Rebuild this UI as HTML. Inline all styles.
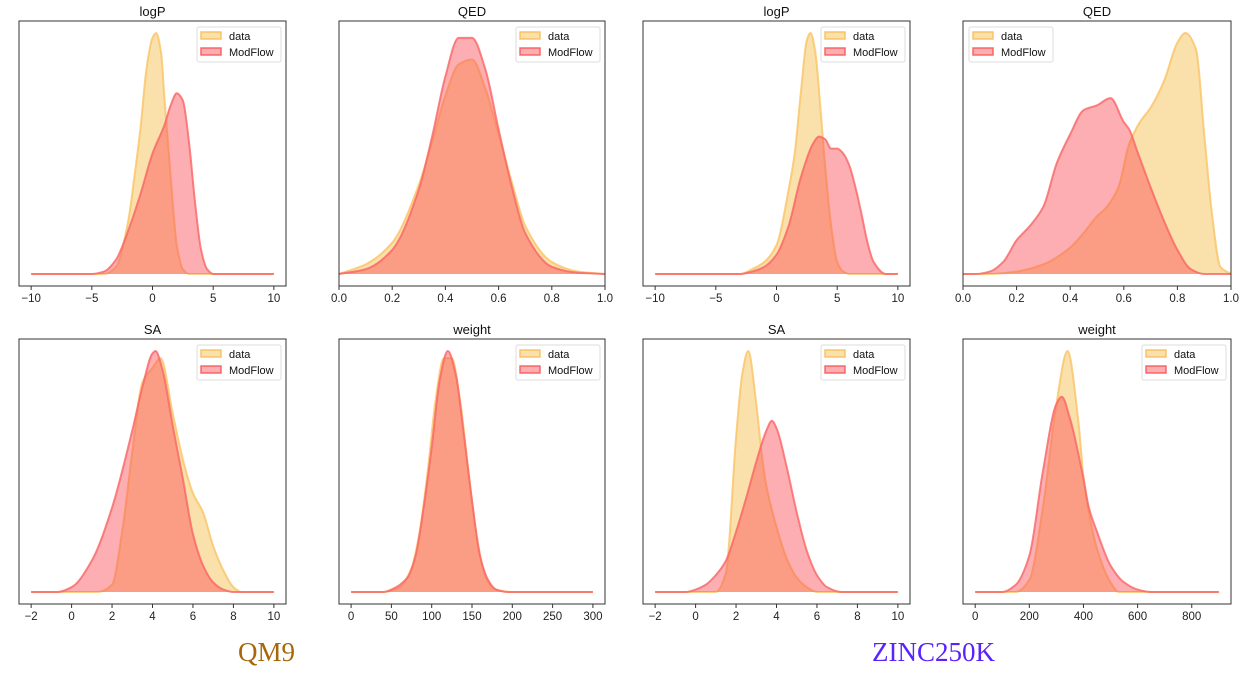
<!DOCTYPE html>
<html><head><meta charset="utf-8">
<style>
html,body{margin:0;padding:0;background:#fff;}
body{width:1247px;height:679px;overflow:hidden;position:relative;font-family:"Liberation Sans",sans-serif;}
svg{position:absolute;left:0;top:0;}
.lab{position:absolute;font-family:"Liberation Serif",serif;font-size:27px;}
</style></head>
<body>
<svg id="chart" width="1247" height="679"></svg>
<div class="lab" style="left:238px;top:637px;color:#a8670c;">QM9</div>
<div class="lab" style="left:872px;top:637px;color:#5a22ff;">ZINC250K</div>
<script>
// ---- data arrays ----
const titles = ["logP","QED","logP","QED","SA","weight","SA","weight"];
const ranges = [[-10,10],[0,1],[-10,10],[0,1],[-2,10],[0,300],[-2,10],[0,900]];
const tickLabels = [
 [-10,-5,0,5,10],[0.0,0.2,0.4,0.6,0.8,1.0],[-10,-5,0,5,10],[0.0,0.2,0.4,0.6,0.8,1.0],
 [-2,0,2,4,6,8,10],[0,50,100,150,200,250,300],[-2,0,2,4,6,8,10],[0,200,400,600,800]
];
const dataX = [
 [-4,-3,-2,-1.5,-1,-0.5,0,0.3,0.7,1,1.5,2,2.5,3,4],
 [0,0.1,0.2,0.3,0.35,0.4,0.45,0.5,0.55,0.6,0.65,0.7,0.8,0.9,1.0],
 [-3,-2,-1,0,1,1.5,2,2.5,2.8,3.2,3.6,4,4.5,5,5.5,6],
 [0.1,0.2,0.3,0.4,0.45,0.5,0.53,0.58,0.62,0.66,0.7,0.75,0.8,0.83,0.87,0.9,0.93,0.96,1.0],
 [1.3,2,2.5,3,3.5,4,4.4,5,5.5,6,6.5,7,7.5,8,8.4],
 [40,60,75,85,95,105,115,125,135,145,155,165,175,185,200],
 [1,1.5,2,2.3,2.6,3,3.3,3.5,4,4.5,5,5.5,6],
 [150,200,250,300,341,380,400,420,450,500,530]
];
const dataY = [
 [0,0.03,0.22,0.4,0.6,0.85,0.98,1,0.92,0.72,0.4,0.12,0.02,0,0],
 [0.01,0.04,0.13,0.37,0.55,0.74,0.87,0.89,0.77,0.58,0.38,0.2,0.05,0.01,0],
 [0,0.02,0.05,0.12,0.35,0.5,0.75,0.97,1,0.92,0.7,0.45,0.2,0.05,0.01,0],
 [0,0.01,0.04,0.11,0.17,0.24,0.27,0.36,0.54,0.63,0.69,0.8,0.96,1.0,0.93,0.58,0.24,0.03,0],
 [0,0.03,0.25,0.58,0.87,0.93,0.97,0.74,0.55,0.41,0.33,0.19,0.09,0.02,0],
 [0,0.02,0.1,0.25,0.5,0.8,0.97,0.97,0.8,0.52,0.25,0.08,0.02,0.005,0],
 [0,0.08,0.64,0.9,1.0,0.78,0.55,0.44,0.27,0.14,0.06,0.02,0],
 [0,0.05,0.35,0.78,1.0,0.72,0.48,0.33,0.18,0.04,0]
];
const flowX = [
 [-5,-4,-3,-2,-1,0,1,1.5,2,2.5,3,3.5,4,4.5,5],
 [0,0.1,0.2,0.3,0.35,0.4,0.45,0.5,0.55,0.6,0.65,0.7,0.8,0.9,1.0],
 [-3,-2,-1,0,1,2,3,3.5,4,4.5,5,5.5,6,6.5,7,7.5,8,9],
 [0.05,0.1,0.15,0.2,0.25,0.3,0.35,0.4,0.45,0.5,0.55,0.6,0.62,0.65,0.7,0.75,0.8,0.85,0.9],
 [-0.7,0,1,2,3,3.5,4,4.15,4.5,5,5.5,6,6.5,7,7.5,8],
 [40,50,70,80,90,100,110,120,130,140,150,160,170,180,195],
 [-0.5,0,0.5,1,1.5,2,2.5,3,3.5,3.77,4,4.5,5,5.5,6,6.5,7.2],
 [100,150,200,250,300,320,350,400,420,450,500,550,600,650]
];
const flowY = [
 [0,0.01,0.06,0.18,0.33,0.5,0.62,0.7,0.75,0.72,0.55,0.3,0.1,0.02,0],
 [0,0.02,0.1,0.35,0.57,0.82,0.98,0.98,0.85,0.6,0.36,0.17,0.03,0.005,0],
 [0,0.01,0.03,0.08,0.2,0.4,0.54,0.57,0.56,0.52,0.52,0.5,0.45,0.36,0.25,0.13,0.05,0],
 [0,0.01,0.05,0.14,0.2,0.28,0.46,0.58,0.68,0.7,0.73,0.63,0.6,0.51,0.36,0.22,0.1,0.02,0],
 [0,0.02,0.13,0.35,0.67,0.85,0.99,1.0,0.92,0.69,0.47,0.24,0.11,0.04,0.01,0],
 [0,0.01,0.06,0.15,0.35,0.6,0.88,1.0,0.9,0.65,0.38,0.15,0.05,0.01,0],
 [0,0.01,0.03,0.07,0.13,0.25,0.39,0.54,0.67,0.71,0.68,0.52,0.33,0.17,0.07,0.02,0],
 [0,0.03,0.15,0.5,0.78,0.81,0.72,0.47,0.35,0.25,0.11,0.04,0.01,0]
];
// ---- layout ----
const NS="http://www.w3.org/2000/svg";
const svg=document.getElementById('chart');
const frames=[[19,286],[339,605],[643,910],[963,1231]];
const rows=[{top:21,bot:286,base:274,peak:33},{top:339,bot:604,base:592,peak:351}];
function mk(tag,attrs,parent){const e=document.createElementNS(NS,tag);for(const k in attrs)e.setAttribute(k,attrs[k]);(parent||svg).appendChild(e);return e;}
// monotone cubic (Fritsch-Carlson) path: no overshoot, rounded extrema
function smoothPath(pts){
 const n=pts.length;
 const dx=[],m=[],t=new Array(n);
 for(let i=0;i<n-1;i++){dx.push(pts[i+1][0]-pts[i][0]);m.push((pts[i+1][1]-pts[i][1])/dx[i]);}
 t[0]=m[0];t[n-1]=m[n-2];
 for(let i=1;i<n-1;i++){
  if(m[i-1]*m[i]<=0)t[i]=0;
  else{const w1=2*dx[i]+dx[i-1],w2=dx[i]+2*dx[i-1];t[i]=(w1+w2)/(w1/m[i-1]+w2/m[i]);}
 }
 let d="M"+pts[0][0].toFixed(2)+","+pts[0][1].toFixed(2);
 for(let i=0;i<n-1;i++){
  const h=dx[i]/3;
  d+=" C"+(pts[i][0]+h).toFixed(2)+","+(pts[i][1]+t[i]*h).toFixed(2)+" "+(pts[i+1][0]-h).toFixed(2)+","+(pts[i+1][1]-t[i+1]*h).toFixed(2)+" "+pts[i+1][0].toFixed(2)+","+pts[i+1][1].toFixed(2);
 }
 return d;
}
for(let p=0;p<8;p++){
 const fr=frames[p%4],rw=rows[Math.floor(p/4)];
 const g=mk('g',{});
 
 
 const [r0,r1]=ranges[p];
 const pad=(p===1||p===3)?0:(r1-r0)*0.05;
 const d0=r0-pad,d1=r1+pad;
 const sx=v=>fr[0]+(v-d0)/(d1-d0)*(fr[1]-fr[0]);
 const sy=v=>rw.base-v*(rw.base-rw.peak);
 const series=[[dataX[p],dataY[p],'rgba(244,182,55,0.42)','rgba(250,195,100,0.8)','data-density'],
               [flowX[p],flowY[p],'rgba(250,75,85,0.45)','rgba(250,100,100,0.8)','modflow-density']];
 for(const [xs,ys,fill,stroke,nm] of series){
  const pts=[[sx(r0),sy(0)]];
  for(let i=0;i<xs.length;i++){if(xs[i]>r0&&xs[i]<r1)pts.push([sx(xs[i]),sy(ys[i])]);}
  pts.push([sx(r1),sy(0)]);
  const dd=smoothPath(pts);
  const area=mk('path',{d:dd+" Z",fill:fill,stroke:'none'},g);
  
  
  const line=mk('path',{d:dd,fill:'none',stroke:stroke,'stroke-width':2,'stroke-linejoin':'round'},g);
  
  
 }
 const box=mk('rect',{x:fr[0],y:rw.top,width:fr[1]-fr[0],height:rw.bot-rw.top,fill:'none',stroke:'#333','stroke-width':1},g);
 
 
 const t=mk('text',{x:(fr[0]+fr[1])/2,y:rw.top-5,'text-anchor':'middle','font-size':13,fill:'#111','font-family':'Liberation Sans, sans-serif'},g);
 t.textContent=titles[p];
 
 
 for(const tv of tickLabels[p]){
  const x=sx(tv);
  mk('line',{x1:x,x2:x,y1:rw.bot,y2:rw.bot+4,stroke:'#333','stroke-width':1},g);
  const tl=mk('text',{x:x,y:rw.bot+16,'text-anchor':'middle','font-size':11.5,fill:'#222','font-family':'Liberation Sans, sans-serif'},g);
  tl.textContent=(p===1||p===3)?tv.toFixed(1).replace('-','\u2212'):String(tv).replace('-','\u2212');
  
  
 }
 // legend
 const lx=(p===3)?fr[0]+6:fr[1]-89, ly=rw.top+6;
 const lg=mk('g',{},g);
 
 
 mk('rect',{x:lx,y:ly,width:84,height:35,rx:2,fill:'rgba(255,255,255,0.85)',stroke:'#ddd','stroke-width':1},lg);
 const ents=[['data','rgba(244,182,55,0.42)','rgba(250,190,90,0.9)'],['ModFlow','rgba(250,75,85,0.45)','rgba(250,90,90,0.9)']];
 ents.forEach((e,i)=>{
  const eg=mk('g',{},lg);
  
  
  mk('rect',{x:lx+4,y:ly+5+i*16,width:20,height:7,fill:e[1],stroke:e[2],'stroke-width':1.5},eg);
  const tx=mk('text',{x:lx+32,y:ly+13+i*16,'font-size':11,fill:'#111','font-family':'Liberation Sans, sans-serif'},eg);
  tx.textContent=e[0];
 });
}
</script>
</body></html>
